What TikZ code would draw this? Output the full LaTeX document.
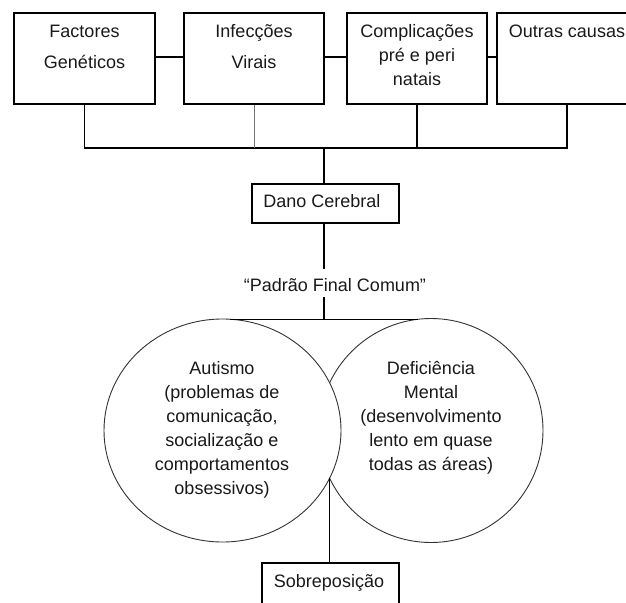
\documentclass[tikz,border=0pt]{standalone}
\usepackage{fontspec}
\setmainfont{Liberation Sans}
\usetikzlibrary{shapes.geometric}
\begin{document}
\begin{tikzpicture}[x=1pt,y=-1pt,
  boxnode/.style={draw=black, line width=1.3pt, rectangle, inner sep=0pt},
  conn/.style={draw=black, line width=1.3pt},
  thinconn/.style={draw=black!55, line width=0.9pt},
  ring/.style={draw=black!80, line width=0.9pt, inner sep=0pt},
  txt/.style={font=\fontsize{18}{24}\selectfont, inner sep=0pt, align=center, anchor=north, text=black!90}]
\useasboundingbox (0,0) rectangle (626,602);
\clip (0,0) rectangle (626,602);
% top boxes
\node[boxnode, minimum width=141pt, minimum height=91pt] (b1) at (84.5,58.5) {};
\node[boxnode, minimum width=140pt, minimum height=91pt] (b2) at (254,58.5) {};
\node[boxnode, minimum width=140pt, minimum height=91pt] (b3) at (417,58.5) {};
\node[boxnode, minimum width=140pt, minimum height=91pt] (b4) at (567,58.5) {};
\node[txt] (t1) at (84.5,20.2) {\strut Factores\\[7pt]Genéticos};
\node[txt] (t2) at (254,20.2) {\strut Infecções\\[7pt]Virais};
\node[txt] (t3) at (417,20.2) {\strut Complicações\\pré e peri\\natais};
\node[txt] (t4) at (567,20.2) {\strut Outras causas};
% connectors between boxes
\draw[conn] ([yshift=1.5pt]b1.east) -- ([yshift=1.5pt]b2.west);
\draw[conn] ([yshift=1.5pt]b2.east) -- ([yshift=1.5pt]b3.west);
\draw[conn] ([yshift=1.5pt]b3.east) -- ([yshift=1.5pt]b4.west);
% bus
\coordinate (bus) at (324,148);
\draw[conn] (b1.south) |- (b4.south |- bus) -- (b4.south);
\draw[conn] (b3.south) -- (b3.south |- bus);
\draw[thinconn] (b2.south) -- (b2.south |- bus);
% Dano Cerebral
\node[boxnode, minimum width=147pt, minimum height=39pt] (dano) at (325.5,203.5) {};
\node[txt] (tdano) at (322,190.9) {\strut Dano Cerebral};
\draw[conn] (bus) -- (bus |- dano.north);
% Padrao Final Comum
\coordinate (pa) at (324,269);
\coordinate (pb) at (324,297);
\node[txt] (pf) at (335,274.9) {\strut “Padrão Final Comum”};
\draw[conn] (pa |- dano.south) -- (pa);
% circles
\node[ring, circle, minimum size=224pt, fill=white] (R) at (431,430.5) {};
\node[ring, ellipse, minimum width=237pt, minimum height=223pt, fill=white] (L) at (222.5,430.5) {};
\coordinate (hl) at (230,319.3);
\coordinate (hr) at (418,319.3);
\draw[conn] (pb) -- (pb |- hl);
\draw[conn] (hl) -- (hr);
\node[txt] (tl) at (222,357.2) {\strut Autismo\\(problemas de\\comunicação,\\socialização e\\comportamentos\\obsessivos)};
\node[txt] (tr) at (431,357.2) {\strut Deficiência\\Mental\\(desenvolvimento\\lento em quase\\todas as áreas)};
% overlap
\coordinate (ov) at (329.5,478);
\node[boxnode, minimum width=137pt, minimum height=48pt] (sob) at (330.5,587) {};
\node[txt] (tsob) at (329,570.9) {\strut Sobreposição};
\draw[conn] (ov) -- (ov |- sob.north);
\end{tikzpicture}
\end{document}
